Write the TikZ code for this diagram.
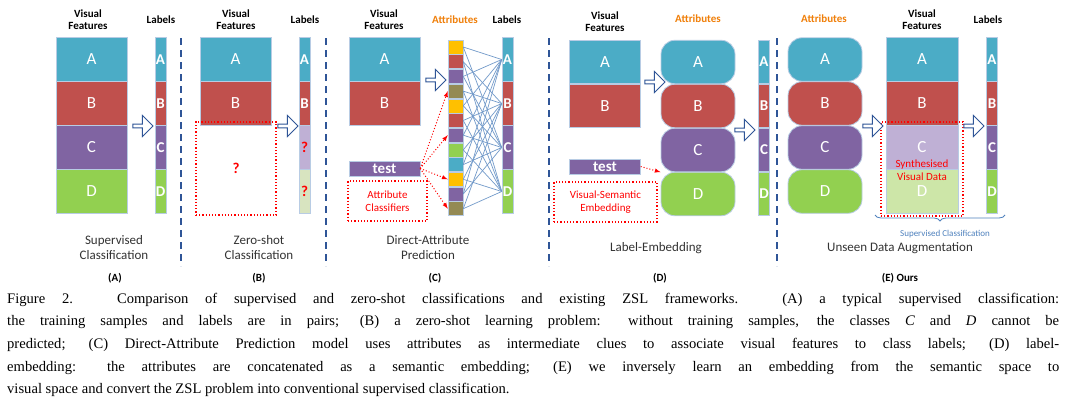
\documentclass[tikz,border=0pt]{standalone}
\usepackage{fontspec}
\setmainfont{Liberation Serif}
\newfontfamily\calfont{Carlito}
\usetikzlibrary{shapes.arrows,decorations.pathreplacing}
\definecolor{cA}{HTML}{4BACC6}\definecolor{cB}{HTML}{C0504D}
\definecolor{cC}{HTML}{8064A2}\definecolor{cD}{HTML}{92D050}
\definecolor{cO}{HTML}{FFC000}\definecolor{cL}{HTML}{948A54}
\definecolor{cLC}{HTML}{BFB0D5}\definecolor{cLD}{HTML}{CDE6A8}
\definecolor{cLD2}{HTML}{D8E4C0}\definecolor{dash}{HTML}{2F5597}
\definecolor{bord}{HTML}{B8CCE4}\definecolor{orT}{HTML}{F07F09}
\definecolor{lineb}{HTML}{4F81BD}
\tikzset{
 blk/.style={draw=bord,line width=0.8pt,text=white,font=\calfont\fontsize{17}{17}\selectfont,minimum width=71pt,minimum height=43.5pt,inner sep=0},
 rnd/.style={blk,rounded corners=14pt,minimum width=74pt},
 lab/.style={draw=bord,line width=0.6pt,text=white,font=\calfont\bfseries\fontsize{15}{15}\selectfont,minimum width=11pt,minimum height=43.5pt,inner sep=0},
 hdr/.style={font=\calfont\bfseries\fontsize{11}{12}\selectfont,align=center},
 ahdr/.style={hdr,text=orT},
 sub/.style={font=\calfont\fontsize{13}{15}\selectfont,align=center,text=black!80},
 tag/.style={font=\calfont\bfseries\fontsize{11}{12}\selectfont},
 barr/.style={single arrow,draw=dash,fill=white,line width=0.9pt,minimum height=20pt,minimum width=21pt,single arrow head extend=3pt,inner sep=0,shape border uses incircle},
 sep/.style={draw=dash,line width=1.4pt,dash pattern=on 7pt off 5pt},
 reddot/.style={draw=red,line width=1.2pt,dotted},
 redtxt/.style={text=red,font=\calfont\fontsize{11}{13}\selectfont,align=center},
 att/.style={draw=bord,line width=0.5pt,minimum width=15pt,minimum height=14pt,inner sep=0},
 captxt/.style={anchor=west,font=\fontsize{14.6}{16}\selectfont,inner sep=0},
 test/.style={draw=bord,fill=cC,text=white,font=\calfont\bfseries\fontsize{15}{15}\selectfont,minimum width=71pt,minimum height=15pt,inner sep=0},
 con/.style={draw=lineb!80,line width=0.7pt},
 rarr/.style={draw=red,line width=1pt,dotted,-latex}
}
\begin{document}
\begin{tikzpicture}[x=1pt,y=-1pt]
\useasboundingbox[fill=white] (0,0) rectangle (1066,410);
% ---------- A
\node[hdr] (hA) at (88,20) {Visual\\Features};
\node[hdr] (lA) at (161,20) {Labels};
\node[blk,fill=cA] (a1) at (91.5,59.5) {A};
\node[blk,fill=cB] (a2) at (91.5,103.5) {B};
\node[blk,fill=cC] (a3) at (91.5,147.5) {C};
\node[blk,fill=cD] (a4) at (91.5,191.5) {D};
\node[lab,fill=cA] (al1) at (160.5,59.5) {A};
\node[lab,fill=cB] (al2) at (160.5,103.5) {B};
\node[lab,fill=cC] (al3) at (160.5,147.5) {C};
\node[lab,fill=cD] (al4) at (160.5,191.5) {D};
\node[barr] (arA) at (142,126) {};
\node[sub] (tA) at (114,248) {Supervised\\Classification};
\node[tag] (gA) at (115,278) {(A)};
\coordinate (s1a) at (181,38); \coordinate (s1b) at (181,266);
\draw[sep] (s1a) -- (s1b);
% ---------- B
\node[hdr] (hB) at (236,20) {Visual\\Features};
\node[hdr] (lB) at (305,20) {Labels};
\node[blk,fill=cA] (b1) at (235.5,59.5) {A};
\node[blk,fill=cB] (b2) at (235.5,103.5) {B};
\node[lab,fill=cA] (bl1) at (304.5,59.5) {A};
\node[lab,fill=cB] (bl2) at (304.5,103.5) {B};
\node[lab,fill=cLC,text=red] (bl3) at (304.5,147.5) {?};
\node[lab,fill=cLD2,text=red] (bl4) at (304.5,191.5) {?};
\node[reddot,minimum width=80pt,minimum height=93pt,inner sep=0] (bq) at (236,168.5) {};
\node[text=red,font=\calfont\bfseries\fontsize{15}{15}\selectfont] (bqm) at (236,168) {?};
\node[barr] (arB) at (287,126) {};
\node[sub] (tB) at (259,248) {Zero-shot\\Classification};
\node[tag] (gB) at (259,278) {(B)};
\coordinate (s2a) at (326,38); \coordinate (s2b) at (326,266);
\draw[sep] (s2a) -- (s2b);
% ---------- C
\node[hdr] (hC) at (384,20) {Visual\\Features};
\node[ahdr] (aC) at (455,20) {Attributes};
\node[hdr] (lC) at (507,20) {Labels};
\node[blk,fill=cA] (c1) at (384.5,59.5) {A};
\node[blk,fill=cB] (c2) at (384.5,103.5) {B};
\node[test] (ct) at (384.5,168.5) {test};
\node[reddot,redtxt,minimum width=79pt,minimum height=40pt,inner sep=0] (cac) at (387.5,201) {Attribute\\Classifiers};
\node[barr] (arC) at (435,80) {};
\node[lab,fill=cA] (cl1) at (507.5,59.5) {A};
\node[lab,fill=cB] (cl2) at (507.5,103.5) {B};
\node[lab,fill=cC] (cl3) at (507.5,147.5) {C};
\node[lab,fill=cD] (cl4) at (507.5,191.5) {D};
\foreach \i/\c in {1/cO,2/cB,3/cC,4/cL,5/cO,6/cB,7/cC,8/cD,9/cA,10/cO,11/cC,12/cL}
  \node[att,fill=\c] (at\i) at (455.5,{47+(\i-1)*14.7}) {};
\foreach \i/\j/\k in {1/1/3,2/2/4,3/1/3,4/2/4,5/1/3,6/2/4,7/1/3,8/2/4,9/1/3,10/2/4,11/1/3,12/2/4}{
  \draw[con] (at\i.east) -- (cl\j.west);
  \draw[con] (at\i.east) -- (cl\k.west);}
\foreach \i in {4,7,10,12} \draw[rarr] (ct.east) -- (at\i.west);
\node[sub] (tC) at (428,248) {Direct-Attribute\\Prediction};
\node[tag] (gC) at (435,278) {(C)};
\coordinate (s3a) at (549,38); \coordinate (s3b) at (549,266);
\draw[sep] (s3a) -- (s3b);
% ---------- D
\node[hdr] (hD) at (605,22) {Visual\\Features};
\node[ahdr] (aD) at (698,19) {Attributes};
\node[blk,fill=cA] (d1) at (605,62) {A};
\node[blk,fill=cB] (d2) at (605,106) {B};
\node[rnd,fill=cA] (dr1) at (698,62) {A};
\node[rnd,fill=cB] (dr2) at (698,106) {B};
\node[rnd,fill=cC] (dr3) at (698,150) {C};
\node[rnd,fill=cD] (dr4) at (698,194) {D};
\node[lab,fill=cA] (dl1) at (764,62) {A};
\node[lab,fill=cB] (dl2) at (764,106) {B};
\node[lab,fill=cC] (dl3) at (764,150) {C};
\node[lab,fill=cD] (dl4) at (764,194) {D};
\node[test] (dt) at (605,166.5) {test};
\node[reddot,redtxt,minimum width=103pt,minimum height=40pt,inner sep=0] (dve) at (605.5,202) {Visual-Semantic\\Embedding};
\draw[rarr] (dt.east) -- (dr3.south west);
\node[barr] (arD1) at (654,82) {};
\node[barr] (arD2) at (744,130) {};
\node[sub] (tD) at (656,248) {Label-Embedding};
\node[tag] (gD) at (660,278) {(D)};
\coordinate (s4a) at (777,38); \coordinate (s4b) at (777,266);
\draw[sep] (s4a) -- (s4b);
% ---------- E
\node[ahdr] (aE) at (824,19) {Attributes};
\node[hdr] (hE) at (922,20) {Visual\\Features};
\node[hdr] (lE) at (988,20) {Labels};
\node[rnd,fill=cA] (er1) at (825,59.5) {A};
\node[rnd,fill=cB] (er2) at (825,103.5) {B};
\node[rnd,fill=cC] (er3) at (825,147.5) {C};
\node[rnd,fill=cD] (er4) at (825,191.5) {D};
\node[blk,fill=cA,minimum width=72pt] (e1) at (922,59.5) {A};
\node[blk,fill=cB,minimum width=72pt] (e2) at (922,103.5) {B};
\node[blk,fill=cLC,minimum width=72pt] (e3) at (922,147.5) {C};
\node[blk,fill=cLD,minimum width=72pt] (e4) at (922,191.5) {D};
\node[lab,fill=cA] (el1) at (992,59.5) {A};
\node[lab,fill=cB] (el2) at (992,103.5) {B};
\node[lab,fill=cC] (el3) at (992,147.5) {C};
\node[lab,fill=cD] (el4) at (992,191.5) {D};
\node[reddot,minimum width=82pt,minimum height=94pt,inner sep=0] (esv) at (922,169) {};
\node[redtxt] (esvt) at (922,170) {Synthesised\\Visual Data};
\node[barr] (arE1) at (872,126) {};
\node[barr] (arE2) at (973,126) {};
\coordinate (br1) at (875,215); \coordinate (br2) at (1005,215);
\draw[lineb,line width=0.8pt,decorate,decoration={brace,mirror,amplitude=6pt}] (br1) -- (br2);
\node[text=lineb,font=\calfont\fontsize{9}{10}\selectfont] (esc) at (945,234) {Supervised Classification};
\node[sub] (tE) at (900,248) {Unseen Data Augmentation};
\node[tag] (gE) at (900,278) {(E) Ours};
% ---------- caption
\node[captxt] (cp1) at (7,300) {\makebox[1052pt][s]{Figure 2. Comparison of supervised and zero-shot classifications and existing ZSL frameworks. (A) a typical supervised classification:}};
\node[captxt] (cp2) at (7,322.5) {\makebox[1052pt][s]{the training samples and labels are in pairs; (B) a zero-shot learning problem: without training samples, the classes \textit{C} and \textit{D} cannot be}};
\node[captxt] (cp3) at (7,345) {\makebox[1052pt][s]{predicted; (C) Direct-Attribute Prediction model uses attributes as intermediate clues to associate visual features to class labels; (D) label-}};
\node[captxt] (cp4) at (7,367.5) {\makebox[1052pt][s]{embedding: the attributes are concatenated as a semantic embedding; (E) we inversely learn an embedding from the semantic space to}};
\node[captxt] (cp5) at (7,390) {visual space and convert the ZSL problem into conventional supervised classification.};
\end{tikzpicture}
\end{document}
